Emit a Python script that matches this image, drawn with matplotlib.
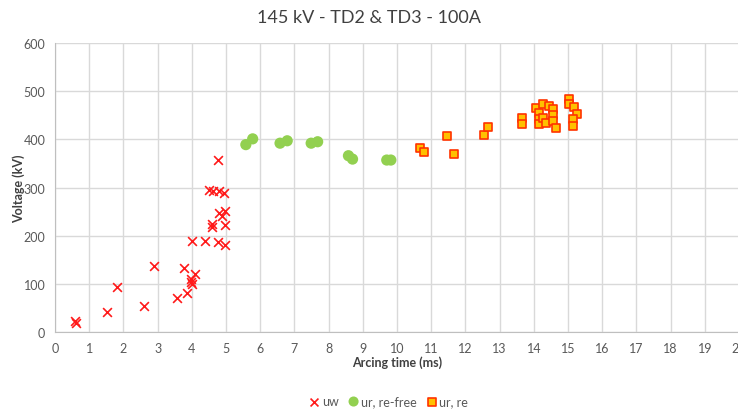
import matplotlib.pyplot as plt

plt.rcParams['font.family'] = ['Lato', 'DejaVu Sans']

# uw (red crosses)
uw_time = [0.58, 0.6, 1.51, 1.8, 2.6, 2.89, 3.58, 3.77, 3.87, 3.98, 3.98, 4.0, 4.09,
           4.0, 4.39, 4.51, 4.63, 4.8, 4.95, 4.78, 4.58, 4.58, 4.8, 4.87, 4.97, 4.97,
           4.78, 4.97]
uw_volt = [23, 19, 41, 93, 55, 136, 70, 132, 82, 110, 104, 100, 120,
           189, 189, 294, 293, 293, 288, 357, 224, 217, 248, 241, 252, 222,
           186, 180]

# ur, re-free (green circles)
free_time = [5.58, 5.78, 6.58, 6.79, 7.49, 7.68, 8.58, 8.7, 9.7, 9.82]
free_volt = [389, 401, 392, 397, 392, 395, 366, 359, 357, 357]

# ur, re (orange squares)
re_time = [10.67, 10.79, 11.45, 11.68, 12.55, 12.65, 13.65, 13.65, 14.05, 14.16,
           14.16, 14.16, 14.26, 14.28, 14.36, 14.45, 14.55, 14.55, 14.55, 14.65,
           15.04, 15.04, 15.18, 15.25, 15.15, 15.15]
re_volt = [381, 373, 406, 370, 409, 426, 444, 432, 465, 454,
           442, 432, 474, 445, 433, 470, 462, 450, 439, 424,
           484, 474, 468, 452, 442, 428]

fig = plt.figure(figsize=(7.38, 4.10), dpi=100)
ax = fig.add_axes([55 / 738, 1 - 333 / 410, 684 / 738, 289 / 410])

ax.scatter(uw_time, uw_volt, marker='x', s=40, color='#FF1A1A', linewidths=1.2,
           label='uw', zorder=3)
ax.scatter(free_time, free_volt, marker='o', s=65, color='#92D050', edgecolors='none',
           label='ur, re-free', zorder=3)
ax.scatter(re_time, re_volt, marker='s', s=34, facecolor='#FFC000', edgecolors='#FF3300',
           linewidths=1.2, label='ur, re', zorder=3)

ax.set_xlim(0, 20)
ax.set_ylim(0, 600)
ax.set_xticks(range(0, 21))
ax.set_yticks(range(0, 601, 100))
ax.grid(True, color='#D9D9D9', linewidth=1.0)
ax.set_axisbelow(True)
for side in ['top', 'right']:
    ax.spines[side].set_visible(False)
for side in ['left', 'bottom']:
    ax.spines[side].set_color('#BFBFBF')
ax.tick_params(length=0, colors='#595959', labelsize=9, pad=7)

ax.set_xlabel('Arcing time (ms)', fontsize=9, fontweight='bold', color='#404040',
              labelpad=1)
ax.set_ylabel('Voltage (kV)', fontsize=9, fontweight='bold', color='#404040',
              labelpad=0)
ax.yaxis.set_label_coords(-30 / 684, 0.5)
fig.suptitle('145 kV - TD2 & TD3 - 100A', y=0.975, fontsize=13, color='#404040')

fig.legend(loc='center', bbox_to_anchor=(0.525, 0.02), ncol=3, frameon=False,
           fontsize=9, handletextpad=0.0, columnspacing=0.6, handlelength=1.2,
           labelcolor='#595959', markerscale=0.9)

fig.savefig('out.png', dpi=100)
